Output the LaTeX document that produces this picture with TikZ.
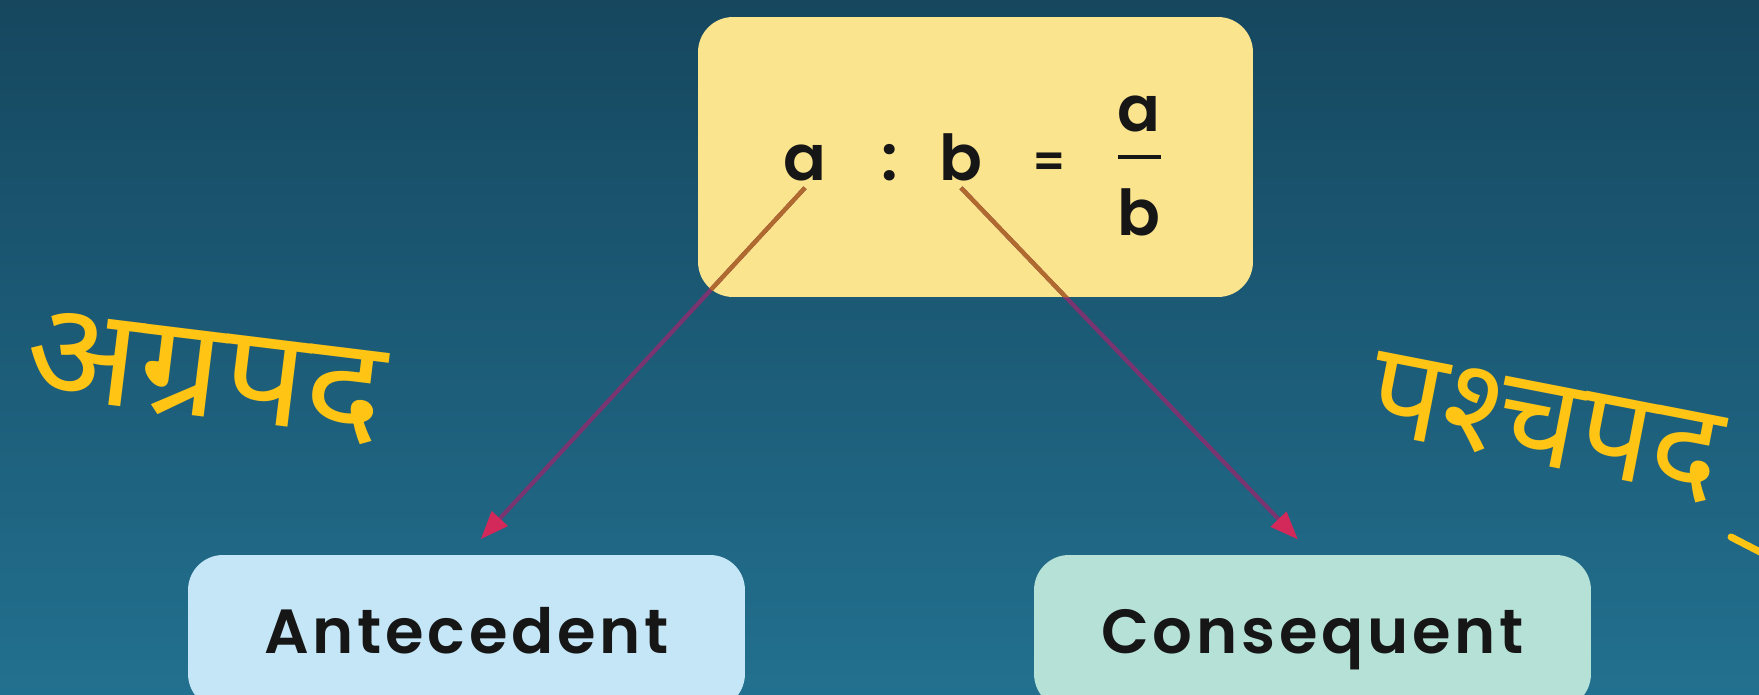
\documentclass[tikz,border=0pt]{standalone}
\usepackage{fontspec}
\usetikzlibrary{arrows.meta}
\IfFontExistsTF{Poppins SemiBold}
  {\newfontfamily\labelfont{Poppins SemiBold}[LetterSpace=6]
   \newfontfamily\mathsans{Poppins SemiBold}}
  {\newfontfamily\labelfont{Poppins}[FakeBold=1.2,LetterSpace=6]
   \newfontfamily\mathsans{Poppins}[FakeBold=1.2]}
\newfontfamily\devfont[Script=Devanagari]{Noto Sans}

\definecolor{bgtop}{HTML}{16475F}
\definecolor{bgbot}{HTML}{22708F}
\definecolor{ratiobox}{HTML}{FBE48E}
\definecolor{antebox}{HTML}{C4E6F6}
\definecolor{consbox}{HTML}{B6E1D7}
\definecolor{inkyellow}{HTML}{FFC414}
\definecolor{arrowline}{HTML}{7A3470}
\definecolor{arrowbrown}{HTML}{B06A2E}
\definecolor{arrowtip}{HTML}{D3285A}
\definecolor{glyph}{HTML}{161616}

\tikzset{
  card/.style={draw=none, rounded corners=0.7cm, inner sep=0pt},
  termtxt/.style={text=glyph, font=\labelfont\fontsize{35.5}{40}\selectfont, anchor=base},
  ratiotxt/.style={text=glyph, font=\mathsans\fontsize{36}{40}\selectfont, anchor=base},
  handtxt/.style={text=inkyellow, font=\devfont\fontsize{78}{80}\selectfont, inner sep=0pt},
  pointer/.style={draw=arrowline, line width=2.4pt, shorten >=12pt,
    -{Triangle[length=16pt,width=12pt,color=arrowtip,fill=arrowtip]}},
  pointerin/.style={draw=arrowbrown, line width=2.4pt}
}

\begin{document}
\begin{tikzpicture}[x=0.02cm, y=-0.02cm]
  \useasboundingbox (0,0) rectangle (1759,695);
  % backdrop
  \shade[top color=bgtop, bottom color=bgbot] (0,0) rectangle (1759,695);

  % ratio card
  \node[card, fill=ratiobox, minimum width=11.1cm, minimum height=5.6cm] (ratio) at (975.5,157) {};
  \node[ratiotxt] (ga) at (805,181) {a};
  \node[ratiotxt] (colon) at (890,181) {:};
  \node[ratiotxt] (gb) at (961,181) {b};
  \node[ratiotxt, font=\mathsans\fontsize{26}{30}\selectfont] (eq) at (1049,178) {=};
  \node[ratiotxt] (fa) at (1139,132) {a};
  \node[ratiotxt] (fb) at (1139,236) {b};
  \draw[glyph, line width=1.8pt] (1118,157) -- (1161,157);

  % term cards
  \node[card, fill=antebox, minimum width=11.14cm, minimum height=3.08cm] (ante) at (466.5,632) {};
  \node[termtxt] (antetxt) at (466.5,654) {Antecedent};
  \node[card, fill=consbox, minimum width=11.14cm, minimum height=3.08cm] (cons) at (1312.5,632) {};
  \node[termtxt] (constxt) at (1312.5,654) {Consequent};

  % pointers
  \draw[pointer] (ga.south) -- (ante.north);
  \draw[pointer] (gb.south) -- (cons.north);
  \begin{scope}
    \clip[rounded corners=0.7cm] (ratio.south west) rectangle (ratio.north east);
    \draw[pointerin] (ga.south) -- (ante.north);
    \draw[pointerin] (gb.south) -- (cons.north);
  \end{scope}

  % handwritten Hindi terms
  \node[handtxt, rotate=-7, xscale=1.08] (agra) at (205,378) {अग्रपद};
  \node[handtxt, rotate=-11, font=\devfont\fontsize{74}{76}\selectfont] (pashch) at (1545,428) {पश्चपद};
  \coordinate (tailA) at (1731,537);
  \coordinate (tailB) at (1762,553);
  \draw[inkyellow, line width=4pt, line cap=round] (tailA) -- (tailB);
\end{tikzpicture}
\end{document}
